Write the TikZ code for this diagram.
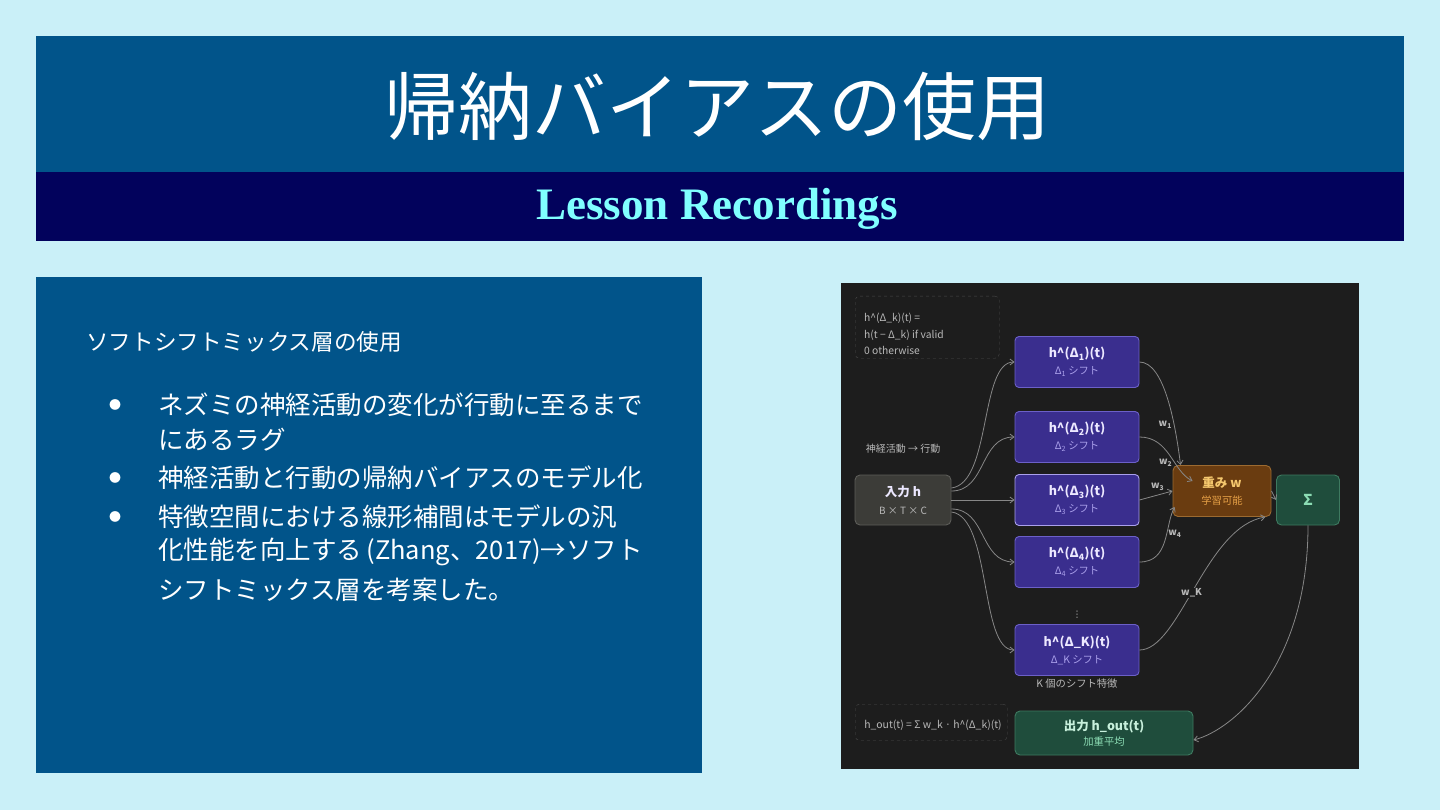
\documentclass[tikz,border=0pt]{standalone}
\usepackage{fontspec}
\setmainfont{Noto Sans CJK JP}
\newfontfamily\subfont{Liberation Serif}
\newfontfamily\symfont{DejaVu Sans}
\usetikzlibrary{arrows.meta,calc}
\definecolor{pagebg}{RGB}{202,240,248}
\definecolor{titleblue}{RGB}{1,84,138}
\definecolor{subnavy}{RGB}{2,2,92}
\definecolor{subtext}{RGB}{128,255,255}
\definecolor{panelbg}{RGB}{29,29,29}
\definecolor{hfill}{RGB}{58,46,142}
\definecolor{hborder}{RGB}{108,96,200}
\definecolor{hsub}{RGB}{170,160,235}
\definecolor{htext}{RGB}{236,232,255}
\definecolor{infill}{RGB}{60,60,56}
\definecolor{inborder}{RGB}{92,92,88}
\definecolor{wfill}{RGB}{106,60,16}
\definecolor{wborder}{RGB}{156,106,48}
\definecolor{wtext}{RGB}{245,200,110}
\definecolor{wsub}{RGB}{230,160,70}
\definecolor{gfill}{RGB}{31,77,60}
\definecolor{gborder}{RGB}{62,122,96}
\definecolor{gtext}{RGB}{200,240,220}
\definecolor{gsub}{RGB}{140,220,180}
\definecolor{edgec}{RGB}{135,135,135}
\definecolor{notec}{RGB}{185,185,185}
\definecolor{noteborder}{RGB}{75,75,75}
\tikzset{
  hbox/.style={draw=hborder, fill=hfill, rounded corners=4pt, line width=0.9pt,
    minimum width=124pt, minimum height=51pt, align=center, text=htext,
    font=\fontsize{12.5}{17}\selectfont, inner sep=0pt},
  edge/.style={draw=edgec, line width=0.8pt, -{Straight Barb[length=4pt,width=6pt]}},
  wlab/.style={text=notec, font=\fontsize{9.5}{10}\bfseries\selectfont, inner sep=1pt},
  note/.style={draw=noteborder, dashed, rounded corners=4pt, anchor=north west},
  notetext/.style={text=notec, align=left, font=\fontsize{10.3}{16.5}\selectfont, inner sep=0pt},
  bodytext/.style={text=white, anchor=west, inner sep=0pt, font=\fontsize{25.5}{28}\selectfont},
  bul/.style={text=white, inner sep=0pt, font=\fontsize{12}{12}\selectfont}
}
\begin{document}
\begin{tikzpicture}[x=1pt,y=-1pt]
\useasboundingbox (0,0) rectangle (1440,810);
\fill[pagebg] (0,0) rectangle (1440,810);
% title bands
\fill[titleblue] (36,36) rectangle (1404,172);
\fill[subnavy] (36,172) rectangle (1404,241);
\node[text=white, font=\fontsize{74}{78}\selectfont, inner sep=0pt] (title) at (717,106) {帰納バイアスの使用};
\node[text=subtext, font=\subfont\bfseries\fontsize{45}{48}\selectfont, inner sep=0pt] (subtitle) at (717,209) {Lesson Recordings};
% left panel
\fill[titleblue] (36,277) rectangle (702,773);
\node[text=white, anchor=west, inner sep=0pt, font=\fontsize{22.6}{24}\selectfont] (head) at (86,342) {ソフトシフトミックス層の使用};
\node[bul] (b1) at (115,405) {●};
\node[bul] (b2) at (115,478) {●};
\node[bul] (b3) at (115,517) {●};
\node[bodytext] (l1) at (158,405) {ネズミの神経活動の変化が行動に至るまで};
\node[bodytext] (l2) at (158,440) {にあるラグ};
\node[bodytext] (l3) at (158,478) {神経活動と行動の帰納バイアスのモデル化};
\node[bodytext] (l4) at (158,517) {特徴空間における線形補間はモデルの汎};
\node[bodytext] (l5) at (158,552) {化性能を向上する\,(Zhang、2017)→ソフト};
\node[bodytext] (l6) at (158,590) {シフトミックス層を考案した。};
% diagram panel
\fill[panelbg] (841,283) rectangle (1359,769);
\node[note, minimum width=144pt, minimum height=62pt] (n1) at (855,296) {};
\node[notetext, anchor=west] (n1t) at (864,334) {h\textasciicircum(Δ\_k)(t) =\\h(t − Δ\_k) if valid\\0 otherwise};
\node[text=notec, font=\fontsize{10}{10}\selectfont] (flow) at (903,449) {神経活動 → 行動};
\node[draw=inborder, fill=infill, rounded corners=5pt, line width=0.9pt, minimum width=96pt, minimum height=50pt, align=center, text=htext, font=\fontsize{12.5}{18}\selectfont, inner sep=0pt] (inp) at (903,500) {\bfseries 入力 h\\{\fontsize{10}{10}\selectfont\color{notec} B × T × C}};
\node[hbox] (h1) at (1077,362) {\bfseries h\textasciicircum(Δ\textsubscript{1})(t)\\{\fontsize{10.3}{10}\selectfont\color{hsub} Δ\textsubscript{1} シフト}};
\node[hbox] (h2) at (1077,437) {\bfseries h\textasciicircum(Δ\textsubscript{2})(t)\\{\fontsize{10.3}{10}\selectfont\color{hsub} Δ\textsubscript{2} シフト}};
\node[hbox, draw=hsub] (h3) at (1077,500) {\bfseries h\textasciicircum(Δ\textsubscript{3})(t)\\{\fontsize{10.3}{10}\selectfont\color{hsub} Δ\textsubscript{3} シフト}};
\node[hbox] (h4) at (1077,562) {\bfseries h\textasciicircum(Δ\textsubscript{4})(t)\\{\fontsize{10.3}{10}\selectfont\color{hsub} Δ\textsubscript{4} シフト}};
\node[text=notec, font=\symfont\fontsize{9}{9}\selectfont, inner sep=0pt] (dots) at (1077,615) {⋮};
\node[hbox] (hK) at (1077,650) {\bfseries h\textasciicircum(Δ\_K)(t)\\{\fontsize{10.3}{10}\selectfont\color{hsub} Δ\_K シフト}};
\node[text=notec, font=\fontsize{10.3}{10}\selectfont] (kcap) at (1077,684) {K 個のシフト特徴};
\node[draw=wborder, fill=wfill, rounded corners=5pt, line width=0.9pt, minimum width=98pt, minimum height=51pt, align=center, text=wtext, font=\fontsize{12.5}{17}\selectfont, inner sep=0pt] (w) at (1222,491) {\bfseries 重み w\\{\fontsize{10.3}{10}\selectfont\color{wsub} 学習可能}};
\node[draw=gborder, fill=gfill, rounded corners=5pt, line width=0.9pt, minimum width=63pt, minimum height=50pt, text=gsub, font=\fontsize{15}{15}\bfseries\selectfont, inner sep=0pt] (sig) at (1308,500) {Σ};
\node[draw=gborder, fill=gfill, rounded corners=5pt, line width=0.9pt, minimum width=178pt, minimum height=44pt, align=center, text=gtext, font=\fontsize{12.5}{15}\selectfont, inner sep=0pt] (out) at (1104,733) {\bfseries 出力 h\_out(t)\\{\fontsize{10.3}{10}\selectfont\color{gsub} 加重平均}};
\node[note, minimum width=152pt, minimum height=36pt] (n2) at (855,704) {};
\node[notetext, font=\fontsize{10.4}{11}\selectfont] (n2t) at (933,725) {h\_out(t) = Σ w\_k · h\textasciicircum(Δ\_k)(t)};
% edges input -> shifts
\draw[edge] ($(inp.east)+(0,-12)$) .. controls +(40,-5) and +(-35,0) .. (h1.west);
\draw[edge] ($(inp.east)+(0,-9)$) .. controls +(35,0) and +(-35,0) .. (h2.west);
\draw[edge] (inp.east) -- (h3.west);
\draw[edge] ($(inp.east)+(0,9)$) .. controls +(35,0) and +(-35,0) .. (h4.west);
\draw[edge] ($(inp.east)+(0,12)$) .. controls +(40,5) and +(-35,0) .. (hK.west);
% edges shifts -> weights
\draw[edge] (h1.east) .. controls +(25,0) and +(-5,-40) .. ($(w.north west)+(8,0)$) node[wlab, pos=0.7, left=1pt] (lw1) {w\textsubscript{1}};
\draw[edge] (h2.east) .. controls +(30,0) and +(-20,-10) .. ($(w.west)+(20,-10)$) node[wlab, pos=0.62, left=1pt] (lw2) {w\textsubscript{2}};
\draw[edge] (h3.east) -- (w.west) node[wlab, pos=0.55, above=3pt] (lw3) {w\textsubscript{3}};
\draw[edge] (h4.east) .. controls +(30,0) and +(-10,20) .. ($(w.south west)+(2,-10)$) node[wlab, pos=0.62, right=0pt] (lw4) {w\textsubscript{4}};
\draw[edge] (hK.east) .. controls +(40,0) and +(-60,10) .. ($(w.south east)+(-6,0)$) node[wlab, fill=panelbg, pos=0.47] (lwK) {w\_K};
\draw[edge] (w.east) -- (sig.west);
\draw[edge] (sig.south) .. controls +(0,140) and +(40,-10) .. ($(out.east)+(0,7)$);
\end{tikzpicture}
\end{document}
